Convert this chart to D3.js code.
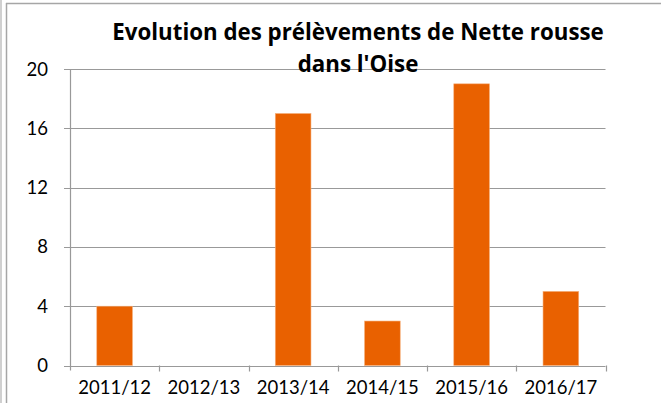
<!DOCTYPE html>
<html><head><meta charset="utf-8">
<script src="https://cdn.jsdelivr.net/npm/d3@7"></script>
<style>body{margin:0;background:#fff;}svg{display:block;font-family:Lato,"Open Sans",sans-serif;}</style>
</head><body>
<svg id="c" width="661" height="403"></svg>
<script>
const categories = ["2011/12","2012/13","2013/14","2014/15","2015/16","2016/17"];
const values = [4,0,17,3,19,5];
const yTicks = [0,4,8,12,16,20];
const titleLines = ["Evolution des prélèvements de Nette rousse","dans l'Oise"];

const svg = d3.select("#c");
const m = {left:70, right:605.5, top:69, bottom:365.5};
const x = d3.scaleBand().domain(categories).range([m.left,m.right]).paddingInner(0.6).paddingOuter(0.3);
const xb = d3.scaleBand().domain(categories).range([m.left,m.right]);
const y = d3.scaleLinear().domain([0,20]).range([m.bottom,m.top]);

// outer frame
svg.append("rect").attr("x",0).attr("y",0).attr("width",2).attr("height",403).attr("fill","#d0d0d0");
svg.append("line").attr("x1",6.5).attr("x2",6.5).attr("y1",3).attr("y2",403).attr("stroke","#a6a6a6").attr("stroke-width",1.5);
svg.append("line").attr("x1",6).attr("x2",661).attr("y1",3.5).attr("y2",3.5).attr("stroke","#a6a6a6").attr("stroke-width",1.5);

// grid
svg.append("g").selectAll("line").data(yTicks).join("line")
  .attr("x1",m.left-6).attr("x2",m.right).attr("y1",d=>Math.round(y(d))+0.5).attr("y2",d=>Math.round(y(d))+0.5)
  .attr("stroke","#999").attr("stroke-width",1.2);
// y axis line
svg.append("line").attr("x1",m.left+0.5).attr("x2",m.left+0.5).attr("y1",m.top).attr("y2",m.bottom+5).attr("stroke","#999").attr("stroke-width",1.2);
// x ticks
const xt = categories.map(c=>xb(c)+xb.bandwidth());
svg.append("g").selectAll("line").data(xt).join("line")
  .attr("x1",d=>Math.round(d)+0.5).attr("x2",d=>Math.round(d)+0.5).attr("y1",m.bottom).attr("y2",m.bottom+6)
  .attr("stroke","#999").attr("stroke-width",1.2);

// bars
svg.append("g").selectAll("rect").data(values).join("rect")
  .attr("x",(d,i)=>x(categories[i])).attr("width",x.bandwidth())
  .attr("y",d=>y(d)).attr("height",d=>y(0)-y(d))
  .attr("fill","#E96100").attr("stroke","#F6B27F").attr("stroke-width",0.6);

// y labels
svg.append("g").selectAll("text").data(yTicks).join("text")
  .attr("x",48).attr("y",d=>y(d)+6.5).attr("text-anchor","end")
  .attr("font-size",18.5).attr("fill","#000").text(d=>d);
// x labels
svg.append("g").selectAll("text").data(categories).join("text")
  .attr("x",d=>xb(d)+xb.bandwidth()/2).attr("y",394).attr("text-anchor","middle")
  .attr("font-size",18.5).attr("fill","#000").text(d=>d);

// title
svg.append("g").selectAll("text").data(titleLines).join("text")
  .attr("x",358).attr("y",(d,i)=>40+i*32).attr("text-anchor","middle")
  .style("font-family","'Open Sans',sans-serif")
  .attr("font-size",22.3).attr("font-weight","bold").attr("fill","#000").text(d=>d);
</script>
</body></html>
